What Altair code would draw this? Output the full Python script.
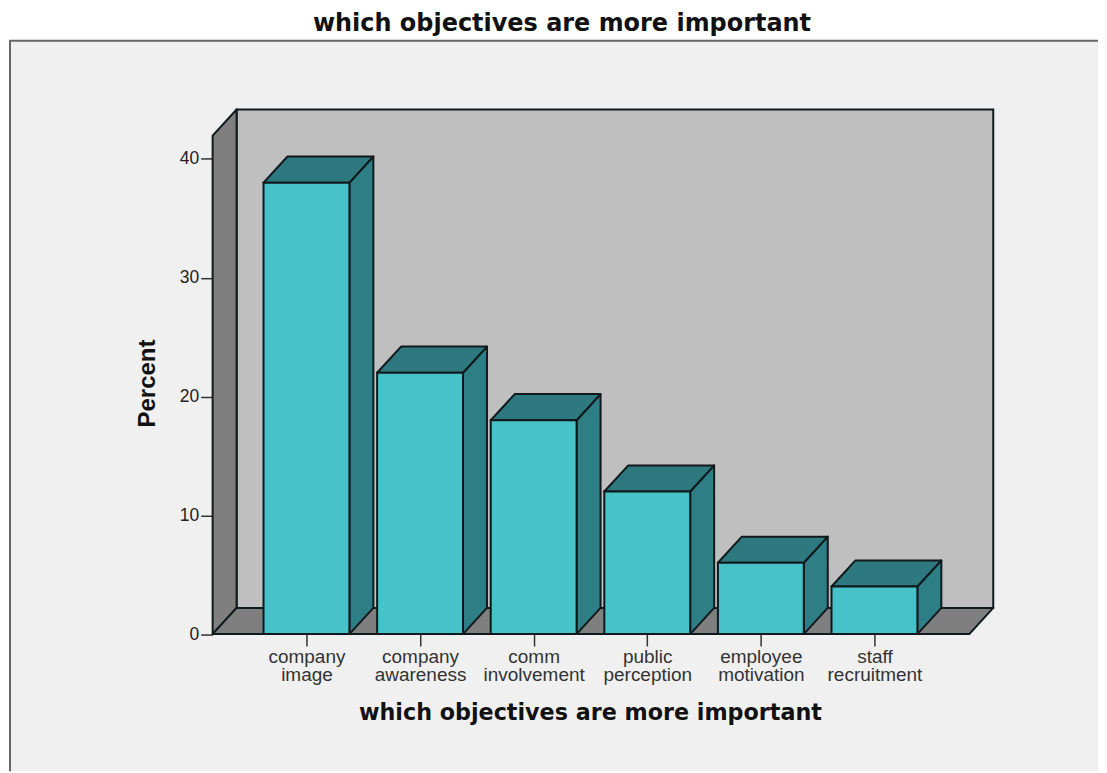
import altair as alt
import pandas as pd

categories = ["company|image", "company|awareness", "comm|involvement",
              "public|perception", "employee|motivation", "staff|recruitment"]
percent = [38, 22, 18, 12, 6, 4]
y_ticks = [0, 10, 20, 30, 40]
TITLE = "which objectives are more important"

# depth of the pseudo-3D box, in data units
DX, DY = 0.2109, 2.2
HALF = 0.378
X_LEFT, X_RIGHT, Y_TOP = -0.826, 5.835, 41.96

W, H = 1091, 732
xs = alt.Scale(domain=[-2.6186, 6.968], nice=False, zero=False)
ys = alt.Scale(domain=[-(773 - 635.5) / 11.9, (635.5 - 41) / 11.9], nice=False, zero=False)


def flat_face(x0, x1, y, face):
    """Parallelogram receding from the front edge x0..x1 at height y."""
    return [
        dict(face=face, x=x0, y=y, y2=y),
        dict(face=face, x=x0 + DX, y=y + DY, y2=y),
        dict(face=face, x=x1, y=y + DY, y2=y),
        dict(face=face, x=x1 + DX, y=y + DY, y2=y + DY),
    ]


def side_face(x, lo, hi, face):
    return [
        dict(face=face, x=x, y=hi, y2=lo),
        dict(face=face, x=x + DX, y=hi + DY, y2=lo + DY),
    ]


bars = pd.DataFrame({
    "x": [i - HALF for i in range(len(percent))],
    "x2": [i + HALF for i in range(len(percent))],
    "v": percent,
})
tops, sides = [], []
for i, v in enumerate(percent):
    tops += flat_face(i - HALF, i + HALF, v, f"t{i}")
    sides += side_face(i + HALF, 0, v, f"s{i}")

x_expr = "split([" + ",".join(f"'{c}'" for c in categories) + "][datum.value],'|')"

x_axis = alt.Axis(
    values=list(range(len(categories))), labelExpr=x_expr, title=TITLE, offset=-137.5,
    domain=False, grid=False, tickSize=12, tickWidth=1.5, tickColor="#333333",
    labelFont="Liberation Sans", labelFontSize=19, labelColor="#333333", labelPadding=1,
    labelLineHeight=19, labelOverlap=False, labelBound=False, labelFlush=False,
    titleFont="DejaVu Sans", titleFontSize=22.3, titleFontWeight="bold", titleColor="#111111",
    titleX=582, titleY=67.5,
)
y_axis = alt.Axis(
    values=y_ticks, title="Percent", offset=-204,
    domain=False, grid=False, tickSize=12, tickWidth=1.5, tickColor="#333333",
    labelFont="Liberation Sans", labelFontSize=17.5, labelColor="#222222", labelPadding=2,
    titleFont="Liberation Sans", titleFontSize=24, titleFontWeight="bold", titleColor="#111111",
    titleX=-53, titleY=343,
)


def poly(rows, fill, sw=2):
    return alt.Chart(pd.DataFrame(rows)).mark_area(
        orient="vertical", fill=fill, stroke="#10191c", strokeWidth=sw, strokeJoin="round"
    ).encode(
        x=alt.X("x:Q", scale=xs, axis=x_axis),
        y=alt.Y("y:Q", scale=ys, axis=y_axis),
        y2="y2:Q",
        detail="face:N",
    )


frame_left = alt.Chart(pd.DataFrame({"a": [0]})).mark_rule(color="#666666", strokeWidth=2).encode(x=alt.value(1))
frame_top = alt.Chart(pd.DataFrame({"a": [0]})).mark_rule(color="#666666", strokeWidth=2).encode(y=alt.value(0))

back = alt.Chart(pd.DataFrame({"x": [X_LEFT + DX], "x2": [X_RIGHT + DX], "y": [DY], "y2": [Y_TOP + DY]})).mark_rect(
    fill="#bfbfbf", stroke="#10191c", strokeWidth=2
).encode(
    x=alt.X("x:Q", scale=xs, axis=x_axis), x2="x2:Q",
    y=alt.Y("y:Q", scale=ys, axis=y_axis), y2="y2:Q",
)
left_wall = poly(side_face(X_LEFT, 0, Y_TOP, "w"), "#7f7f7f")
floor = poly(flat_face(X_LEFT, X_RIGHT, 0, "f"), "#7f7f7f")
side_faces = poly(sides, "#2e7f85")
top_faces = poly(tops, "#2d797f")
fronts = alt.Chart(bars).mark_rect(fill="#47c2c8", stroke="#10191c", strokeWidth=2).encode(
    x=alt.X("x:Q", scale=xs, axis=x_axis), x2="x2:Q",
    y=alt.Y("v:Q", scale=ys, axis=y_axis), y2=alt.datum(0),
)

chart = alt.layer(
    frame_left, frame_top, back, left_wall, floor, side_faces, top_faces, fronts
).properties(
    width=W, height=H, padding={"left": 0, "right": 0, "top": 3, "bottom": 0}, background="white",
    title=alt.TitleParams(TITLE, font="DejaVu Sans", fontSize=24, fontWeight="bold", color="#111111",
                          anchor="middle", frame="group", dx=8.5, offset=4),
).configure_view(fill="#f0f0f0", stroke=None)

chart.save("out.html", embed_options={"renderer": "svg", "actions": False})
